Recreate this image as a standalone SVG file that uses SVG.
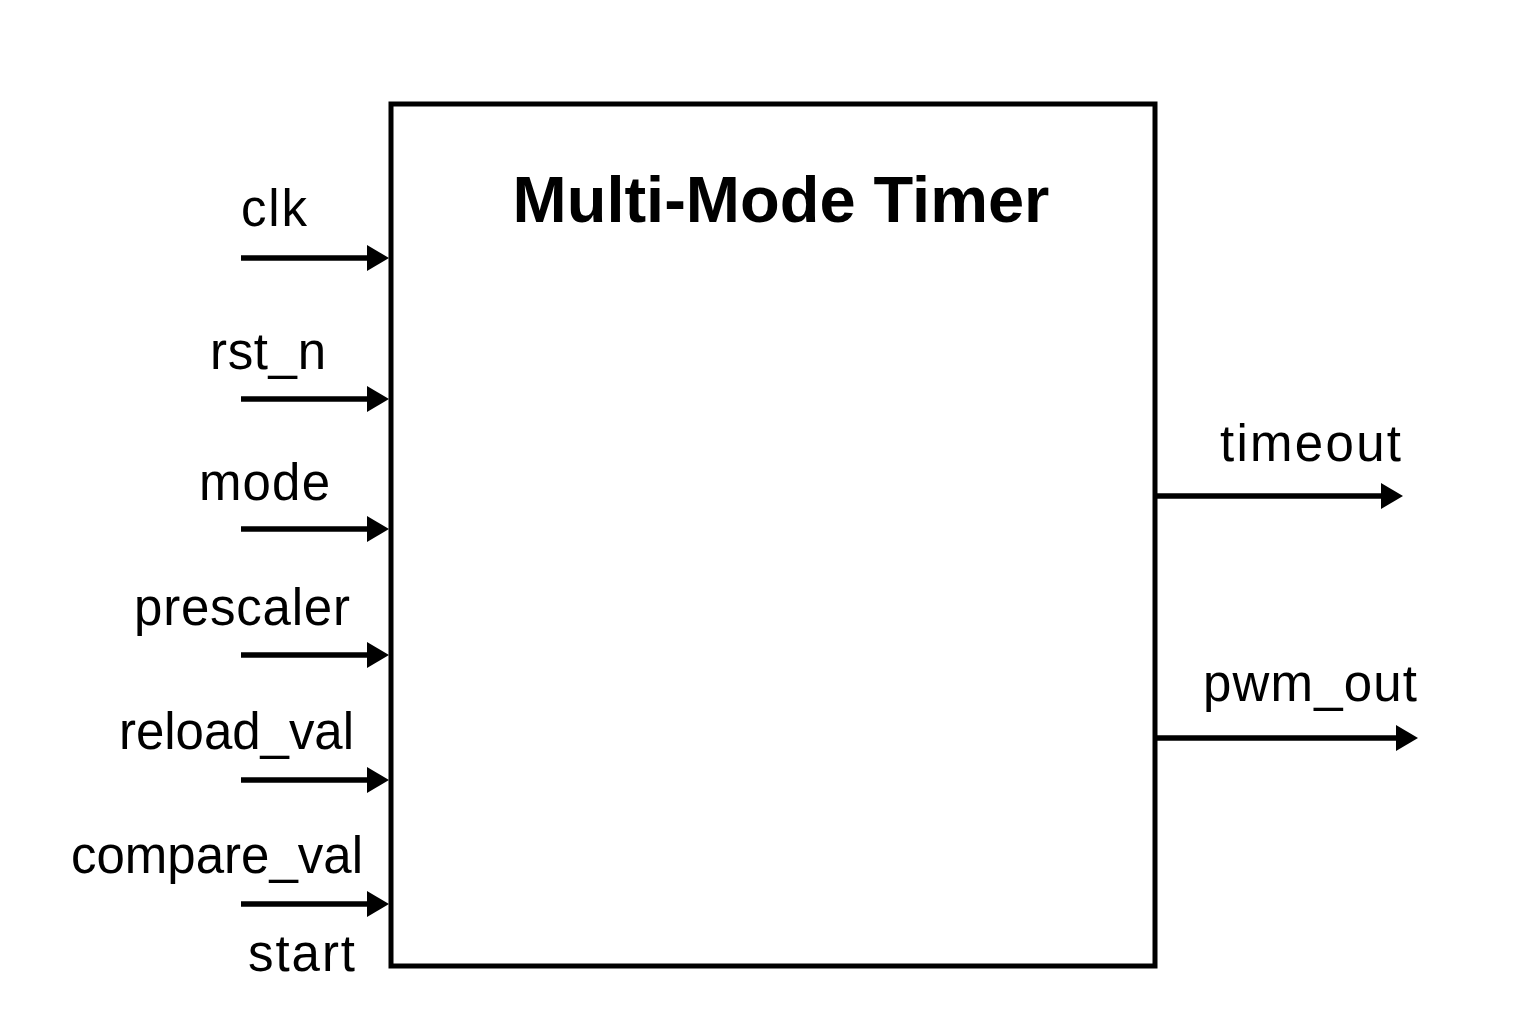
<svg xmlns="http://www.w3.org/2000/svg" width="1536" height="1024" viewBox="0 0 1536 1024">
  <style>
    .bg { fill: #ffffff; }
    .block { fill: #ffffff; stroke: #000000; stroke-width: 5; }
    .title { font-family: "Liberation Sans", Arial, sans-serif; font-weight: bold; font-size: 65px; fill: #000000; }
    .lbl { font-family: "Liberation Sans", Arial, sans-serif; font-size: 51px; fill: #000000; }
    .wire { stroke: #000000; stroke-width: 5.5; fill: none; marker-end: url(#arrow); }
  </style>
  <defs>
    <marker id="arrow" markerUnits="userSpaceOnUse" viewBox="0 0 22 26" markerWidth="22" markerHeight="26" refX="1" refY="13" orient="auto">
      <path d="M0,0 L22,13 L0,26 z" fill="#000000"/>
    </marker>
  </defs>
  <rect class="bg" x="0" y="0" width="1536" height="1024"/>

  <g id="timer">
    <rect class="block" x="391" y="104" width="764" height="862"/>
    <text class="title" x="781" y="222" text-anchor="middle">Multi-Mode Timer</text>
  </g>

  <g id="connectors">
    <line class="wire" x1="241" y1="258" x2="368" y2="258"/>
    <line class="wire" x1="241" y1="399" x2="368" y2="399"/>
    <line class="wire" x1="241" y1="529" x2="368" y2="529"/>
    <line class="wire" x1="241" y1="655" x2="368" y2="655"/>
    <line class="wire" x1="241" y1="780" x2="368" y2="780"/>
    <line class="wire" x1="241" y1="904" x2="368" y2="904"/>
    <line class="wire" x1="1155" y1="496" x2="1382" y2="496"/>
    <line class="wire" x1="1155" y1="738" x2="1397" y2="738"/>
  </g>

  <g id="port-clk"><text class="lbl" x="241" y="226" textLength="66">clk</text></g>
  <g id="port-rst_n"><text class="lbl" x="210" y="369" textLength="116">rst_n</text></g>
  <g id="port-mode"><text class="lbl" x="199" y="500" textLength="131">mode</text></g>
  <g id="port-prescaler"><text class="lbl" x="134" y="625" textLength="216">prescaler</text></g>
  <g id="port-reload_val"><text class="lbl" x="119" y="749" textLength="235">reload_val</text></g>
  <g id="port-compare_val"><text class="lbl" x="71" y="873" textLength="292">compare_val</text></g>
  <g id="port-start"><text class="lbl" x="248" y="971" textLength="107">start</text></g>
  <g id="port-timeout"><text class="lbl" x="1220" y="461" textLength="181">timeout</text></g>
  <g id="port-pwm_out"><text class="lbl" x="1203" y="701" textLength="214">pwm_out</text></g>
</svg>
